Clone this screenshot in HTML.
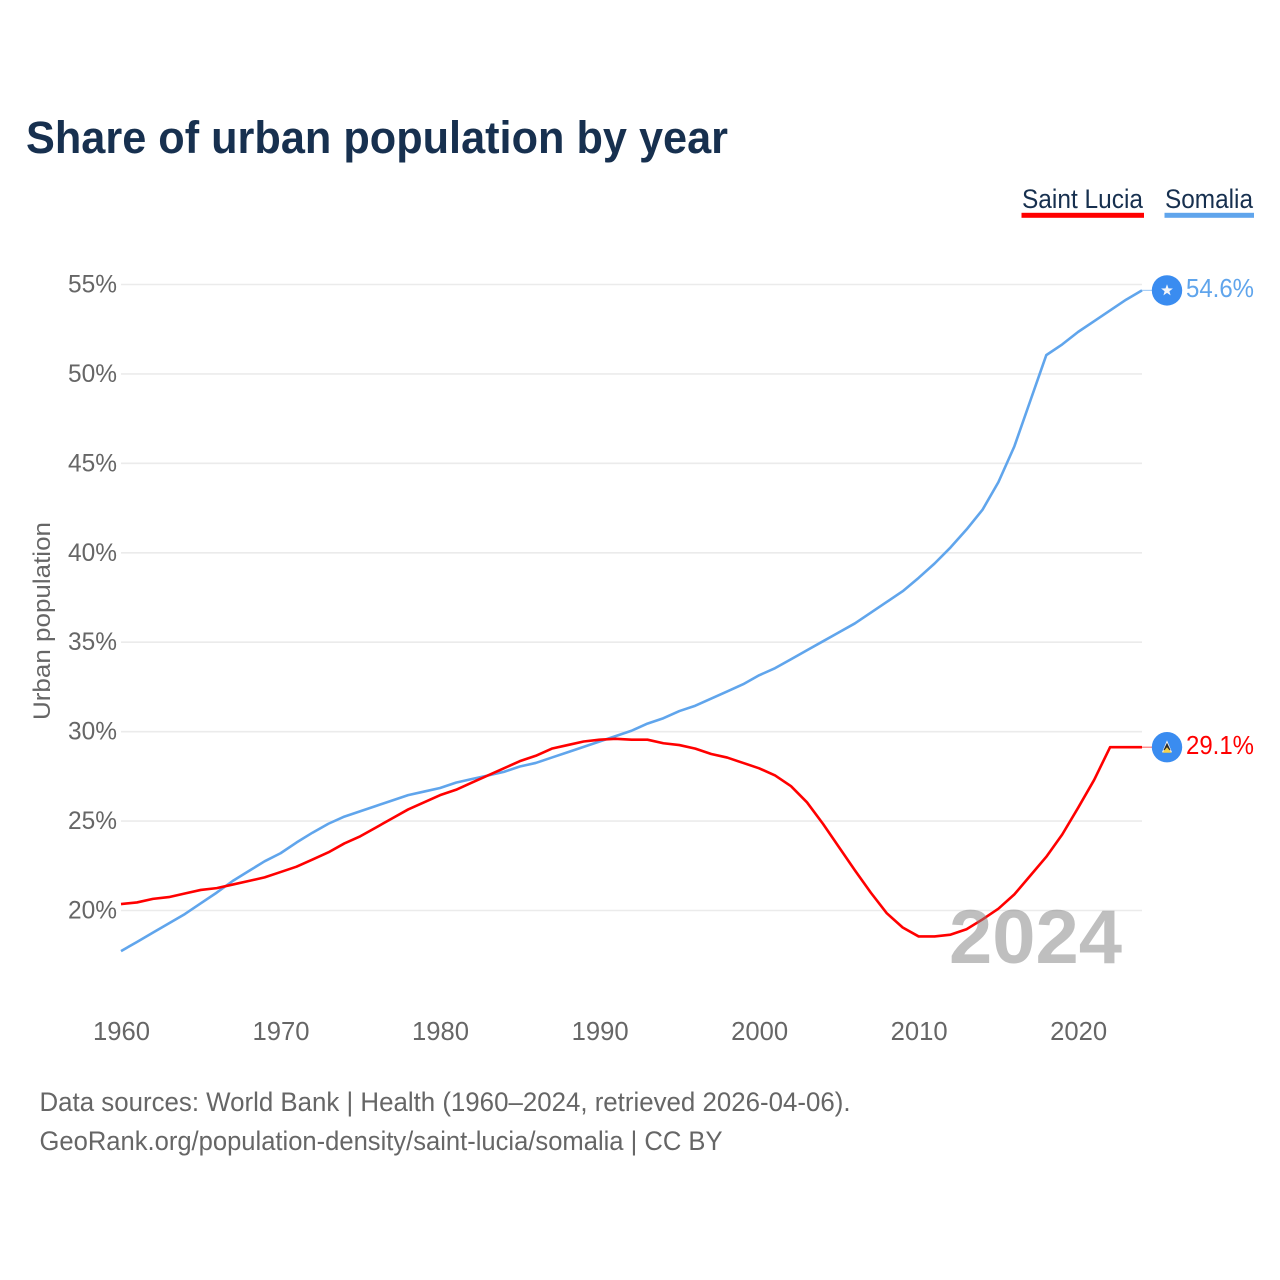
<!DOCTYPE html>
<html lang="en">
<head>
<meta charset="utf-8">
<title>Share of urban population by year</title>
<style>
html,body{margin:0;padding:0;background:#fff}
svg{display:block}
text{font-family:"Liberation Sans",sans-serif}
</style>
</head>
<body>
<svg id="chart" xmlns="http://www.w3.org/2000/svg" width="1280" height="1280" viewBox="0 0 1280 1280">
  <rect width="1280" height="1280" fill="#fff"/>
  <text x="26" y="153" font-size="45.5" font-weight="700" fill="#17304f" textLength="702" lengthAdjust="spacingAndGlyphs">Share of urban population by year</text>

  <g>
    <g>
      <text x="1022" y="208" font-size="27" fill="#17304f" textLength="121" lengthAdjust="spacingAndGlyphs">Saint Lucia</text>
      <rect x="1021.5" y="212.8" width="122.5" height="5" fill="#ff0000"/>
    </g>
    <g>
      <text x="1165" y="208" font-size="27" fill="#17304f" textLength="88" lengthAdjust="spacingAndGlyphs">Somalia</text>
      <rect x="1164.5" y="212.8" width="89.5" height="5" fill="#60a5ec"/>
    </g>
  </g>

  <text transform="translate(50,720) rotate(-90)" font-size="24.5" fill="#666" textLength="198" lengthAdjust="spacingAndGlyphs">Urban population</text>

  <g id="grid"></g>
  <g id="yticks"></g>
  <g id="xticks"></g>
  <g id="series"></g>

  <text x="949" y="963" font-size="76" font-weight="700" fill="#808080" fill-opacity="0.5" textLength="173" lengthAdjust="spacingAndGlyphs">2024</text>

  <g id="endmarks"></g>

  <g>
    <text x="39.5" y="1111" font-size="26.5" fill="#666" textLength="811" lengthAdjust="spacingAndGlyphs">Data sources: World Bank | Health (1960–2024, retrieved 2026-04-06).</text>
    <text x="39.5" y="1150" font-size="26.5" fill="#666" textLength="683" lengthAdjust="spacingAndGlyphs">GeoRank.org/population-density/saint-lucia/somalia | CC BY</text>
  </g>
</svg>
<script>
const years = [];
for (let yr = 1960; yr <= 2024; yr++) years.push(yr);
const yTickValues = [20, 25, 30, 35, 40, 45, 50, 55];
const yTickLabels = ["20%", "25%", "30%", "35%", "40%", "45%", "50%", "55%"];
const xTickValues = [1960, 1970, 1980, 1990, 2000, 2010, 2020];
const xTickLabels = ["1960", "1970", "1980", "1990", "2000", "2010", "2020"];
const saintLucia = [20.36,20.45,20.65,20.75,20.95,21.15,21.25,21.45,21.65,21.85,
  22.15,22.45,22.85,23.25,23.75,24.15,24.65,25.15,25.65,26.05,
  26.45,26.75,27.15,27.55,27.95,28.35,28.65,29.05,29.25,29.45,
  29.55,29.6,29.55,29.55,29.35,29.25,29.05,28.75,28.55,28.25,
  27.95,27.55,26.95,26.05,24.85,23.55,22.25,21.0,19.85,19.05,
  18.55,18.55,18.65,18.95,19.5,20.1,20.9,21.95,23.0,24.25,
  25.75,27.3,29.13,29.13,29.13];
const somalia = [17.73,18.24,18.76,19.28,19.8,20.4,21.0,21.65,22.2,22.75,
  23.2,23.8,24.35,24.85,25.25,25.55,25.85,26.15,26.45,26.65,
  26.85,27.15,27.35,27.55,27.75,28.05,28.25,28.55,28.85,29.15,
  29.45,29.75,30.05,30.45,30.75,31.15,31.45,31.85,32.25,32.65,
  33.15,33.55,34.05,34.55,35.05,35.55,36.05,36.65,37.25,37.85,
  38.6,39.4,40.3,41.3,42.4,43.95,45.95,48.5,51.05,51.65,
  52.35,52.95,53.55,54.15,54.67];
const saintLuciaEndLabel = "29.1%";
const somaliaEndLabel = "54.6%";

const NS = "http://www.w3.org/2000/svg";
const xScale = v => 121 + (v - 1960) * 15.953;
const yScale = v => 910.5 - (v - 20) * 17.886;
const plotRight = xScale(2024);

function mk(tag, attrs, parent, txt) {
  const el = document.createElementNS(NS, tag);
  for (const k in attrs) el.setAttribute(k, attrs[k]);
  if (txt !== undefined) el.textContent = txt;
  parent.appendChild(el);
  return el;
}

const grid = document.getElementById("grid");
const yticks = document.getElementById("yticks");
const xticks = document.getElementById("xticks");
const series = document.getElementById("series");
const endmarks = document.getElementById("endmarks");

yTickValues.forEach((v, i) => {
  const line = mk("line", {x1: 121, x2: plotRight, y1: yScale(v), y2: yScale(v), stroke: "#ebebeb", "stroke-width": 1.6}, grid);
  
  
  const label = mk("text", {x: 117, y: yScale(v) + 8, "text-anchor": "end", "font-size": 25, fill: "#666", textLength: 49, lengthAdjust: "spacingAndGlyphs"}, yticks, yTickLabels[i]);
  
  
});

xTickValues.forEach((v, i) => {
  const label = mk("text", {x: xScale(v) + 0.5, y: 1040, "text-anchor": "middle", "font-size": 25.5, fill: "#666", textLength: 57, lengthAdjust: "spacingAndGlyphs"}, xticks, xTickLabels[i]);
  
  
});

function drawSeries(values, color) {
  const pts = values.map((v, i) => xScale(years[i]).toFixed(2) + "," + yScale(v).toFixed(2)).join(" ");
  return mk("polyline", {points: pts, fill: "none", stroke: color, "stroke-width": 2.6, "stroke-linejoin": "round"}, series);
}
const lineSomalia = drawSeries(somalia, "#60a5ec");


const lineLucia = drawSeries(saintLucia, "#ff0000");



function drawEnd(value, color, labelText, labelDy) {
  const y = yScale(value);
  const g = mk("g", {}, endmarks);
  const c = mk("line", {x1: plotRight, x2: 1152, y1: y, y2: y, stroke: color, "stroke-width": 1.2, "stroke-opacity": 0.55}, g);
  
  
  const dot = mk("circle", {cx: 1167, cy: y, r: 15.2, fill: "#3a8cf0"}, g);
  
  
  const t = mk("text", {x: 1186, y: y + labelDy, "font-size": 26, fill: color, textLength: 68, lengthAdjust: "spacingAndGlyphs"}, g, labelText);
  
  
  return y;
}
const ySom = drawEnd(somalia[somalia.length - 1], "#60a5ec", somaliaEndLabel, 6.5);
const yLuc = drawEnd(saintLucia[saintLucia.length - 1], "#ff0000", saintLuciaEndLabel, 7);

const star = mk("path", {transform: "translate(1167," + ySom + ")", d: "M0,-6.2 L1.5,-2 L5.9,-1.9 L2.4,0.8 L3.6,5 L0,2.5 L-3.6,5 L-2.4,0.8 L-5.9,-1.9 L-1.5,-2 Z", fill: "#f2f5fa"}, endmarks);



const flagW = mk("path", {transform: "translate(1167," + yLuc + ")", d: "M0,-7 L5,5 L-5,5 Z", fill: "#f4f4f4"}, endmarks);


const flagK = mk("path", {transform: "translate(1167," + yLuc + ")", d: "M0,-4.5 L3.6,3 L-3.6,3 Z", fill: "#2b2b2b"}, endmarks);


const flagY = mk("path", {transform: "translate(1167," + yLuc + ")", d: "M0,0 L4.6,5.5 L-4.6,5.5 Z", fill: "#f6d24a"}, endmarks);


</script>
</body>
</html>
